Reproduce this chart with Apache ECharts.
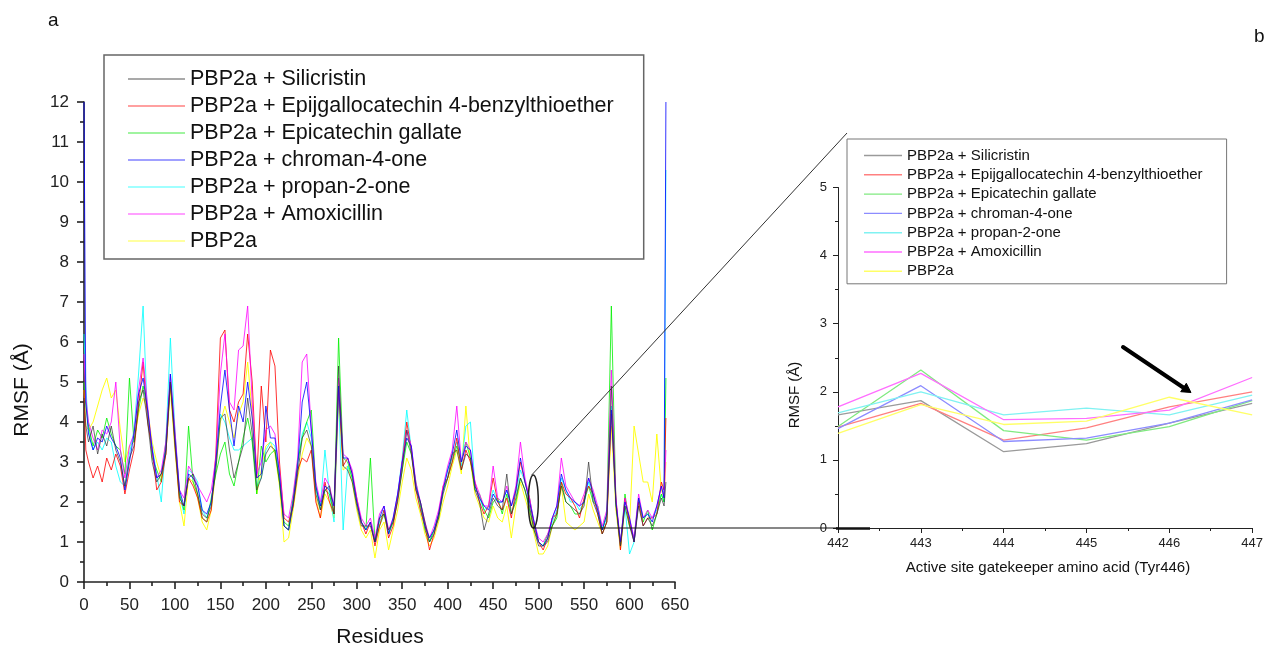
<!DOCTYPE html>
<html>
<head>
<meta charset="utf-8">
<script src="https://cdn.jsdelivr.net/npm/echarts@6/dist/echarts.min.js"></script>
<style>
html,body{margin:0;padding:0;background:#fff;}
#chart{width:1266px;height:648px;}
</style>
</head>
<body>
<div id="chart"></div>
<script>
// ---------- Panel a data (RMSF vs residue) ----------
const residues = [0,2,5,10,15,20,25,30,35,40,45,50,55,60,65,70,75,80,85,90,95,100,105,110,115,120,125,130,135,140,145,150,155,160,165,170,175,180,185,190,195,200,205,210,215,220,225,230,235,240,245,250,255,260,265,270,275,280,285,290,295,300,305,310,315,320,325,330,335,340,345,350,355,360,365,370,375,380,385,390,395,400,405,410,415,420,425,430,435,440,445,450,455,460,465,470,475,480,485,490,495,500,505,510,515,520,525,530,535,540,545,550,555,560,565,570,575,580,585,590,595,600,605,610,615,620,625,630,635,638,640];

const silicristin = [4.6,3.9,
3.5,3.9,3.2,3.7,3.4,3.9,3.3,3.0,2.4,3.1,
3.4,4.5,4.8,4.0,3.0,2.5,2.7,3.2,5.0,3.4,
2.1,1.9,2.6,2.7,2.2,1.7,1.6,1.9,2.8,4.1,
4.2,3.3,2.6,3.0,3.4,4.6,3.7,2.3,2.6,3.2,
3.4,3.3,2.5,1.4,1.3,1.9,2.7,3.6,3.8,3.4,
2.2,1.8,2.3,2.4,1.7,5.4,2.9,2.8,2.5,1.9,
1.4,1.4,1.4,1.0,1.6,1.7,1.3,1.5,2.0,2.8,
3.8,3.2,2.3,2.0,1.5,1.0,1.2,1.6,2.2,2.6,
3.2,3.3,2.8,3.2,3.1,2.3,2.0,1.3,1.7,2.1,
1.9,1.8,2.7,1.7,2.1,2.6,2.3,1.9,1.3,0.9,
0.9,1.0,1.4,1.7,2.4,2.0,1.9,1.8,1.7,1.9,
3.0,2.0,1.7,1.2,1.5,4.9,1.9,0.9,1.9,1.4,
1.0,1.9,1.4,1.6,1.4,1.7,2.1,
1.9,2.5];

const epigallocatechin = [4.8,3.3,
3.0,2.6,2.9,2.5,3.1,2.8,3.2,2.9,2.2,2.8,
3.3,4.4,5.5,4.0,3.3,2.3,2.5,3.2,5.0,3.5,
2.0,1.9,2.6,2.4,2.1,1.6,1.5,1.8,3.2,6.1,
6.3,4.3,4.0,4.5,4.7,6.2,5.0,2.6,4.9,3.5,
5.8,5.4,3.0,1.6,1.5,1.9,2.8,3.1,3.0,3.3,
2.0,1.6,2.5,2.0,1.7,4.8,2.9,3.1,2.7,2.1,
1.5,1.2,1.5,0.9,1.4,1.8,1.1,1.4,2.1,3.0,
4.0,3.3,2.3,1.8,1.4,0.8,1.2,1.7,2.4,2.6,
3.0,3.6,2.8,3.3,3.0,2.5,2.0,1.7,1.9,2.6,
2.0,1.8,2.1,1.6,2.3,3.0,2.5,2.1,1.4,1.0,
0.8,1.1,1.6,1.7,2.5,2.2,2.1,1.9,1.6,2.1,
2.4,2.2,1.7,1.2,1.5,4.2,2.1,0.8,2.1,1.5,
1.0,2.0,1.4,1.6,1.6,1.7,2.5,
2.3,4.1];

const epicatechin = [5.0,4.4,
3.9,3.4,3.8,3.6,4.1,3.7,3.4,3.3,2.7,5.1,
3.5,4.3,4.9,4.3,3.1,2.8,2.5,3.5,5.0,3.7,
2.2,1.8,3.9,2.5,2.2,1.6,1.5,2.1,2.7,3.2,
3.5,2.7,2.4,3.0,3.6,4.1,3.5,2.2,3.4,3.0,
3.2,3.3,2.5,1.5,1.4,2.1,3.0,3.6,4.0,4.3,
2.4,1.8,2.3,2.2,1.7,6.1,3.1,3.0,2.6,2.0,
1.5,1.3,3.1,1.0,1.4,1.7,1.2,1.5,2.1,2.8,
3.5,3.2,2.5,1.9,1.3,1.0,1.3,1.6,2.3,2.6,
3.0,3.4,3.0,3.5,3.1,2.3,2.2,1.8,1.6,2.0,
2.1,1.7,2.2,1.7,2.0,2.6,2.3,1.8,1.3,1.0,
0.9,1.2,1.4,1.6,2.5,2.0,1.9,1.7,1.7,2.0,
2.4,2.0,1.9,1.3,1.7,6.9,2.0,0.9,2.2,1.4,
1.1,2.1,1.5,1.8,1.3,1.7,2.2,
2.0,5.1];

const chromanone = [12.0,4.5,
3.7,3.3,3.6,3.5,3.9,3.6,3.4,3.1,2.3,3.0,
3.7,4.7,5.1,4.3,3.3,2.6,2.7,3.3,5.2,3.6,
2.3,1.9,2.7,2.6,2.4,1.8,1.7,2.0,3.0,4.4,
5.3,4.3,3.4,4.4,4.0,5.0,4.1,2.6,2.7,4.4,
3.6,3.6,2.7,1.4,1.3,2.0,2.9,4.5,5.0,3.8,
2.4,1.9,2.4,2.3,1.9,4.9,3.1,3.1,2.7,2.0,
1.5,1.3,1.5,1.0,1.6,1.9,1.2,1.6,2.2,3.0,
3.6,3.4,2.4,2.0,1.4,1.1,1.3,1.7,2.3,2.8,
3.2,3.8,3.0,3.4,3.3,2.4,2.1,1.9,1.8,2.2,
2.0,2.0,2.3,1.9,2.3,3.1,2.5,2.0,1.5,1.0,
0.9,1.1,1.6,1.9,2.7,2.3,2.1,2.0,1.9,2.0,
2.6,2.2,1.8,1.3,1.7,4.3,2.0,1.0,2.0,1.6,
1.0,2.1,1.6,1.7,1.5,1.9,2.4,
2.1,12.0];

const propanone = [6.2,4.9,
3.8,3.3,3.5,3.3,3.6,3.5,2.9,2.5,2.4,3.2,
3.8,5.2,6.9,4.0,3.4,2.7,2.0,3.5,6.1,3.8,
2.2,1.7,2.8,2.7,2.5,1.8,1.6,2.0,2.9,4.2,
4.0,3.6,3.3,3.3,3.4,3.5,3.6,2.4,2.6,3.3,
3.5,3.4,2.6,1.4,1.3,2.0,3.0,3.7,4.0,3.6,
2.3,1.9,3.3,2.2,1.5,4.7,1.3,2.9,2.6,2.0,
1.5,1.3,1.5,1.0,1.5,1.8,1.2,1.5,2.2,3.1,
4.3,3.3,2.4,1.8,1.4,1.0,1.3,1.7,2.3,2.8,
3.1,3.5,2.9,3.9,4.0,2.4,2.1,1.8,1.9,2.3,
2.0,2.0,2.3,1.9,2.2,2.8,2.5,2.1,1.5,1.0,
0.9,1.1,1.5,1.8,2.6,2.3,2.0,2.0,1.8,2.0,
2.5,2.1,1.8,1.3,1.6,4.4,2.0,0.9,1.9,0.7,
1.0,2.0,1.6,1.7,1.6,1.8,2.2,
2.0,10.3];

const amoxicillin = [5.7,4.6,
4.0,3.6,3.3,3.8,3.7,4.0,5.0,3.3,2.6,3.4,
3.7,4.8,5.6,4.4,3.3,2.6,2.8,3.5,5.2,3.8,
2.3,2.1,2.9,2.7,2.4,2.2,2.0,2.3,3.1,5.2,
6.2,4.5,4.3,5.8,5.9,6.9,4.5,2.7,3.0,3.8,
3.9,3.7,2.8,1.7,1.6,2.2,3.1,5.5,5.7,3.8,
2.5,2.0,2.6,2.4,1.9,5.1,3.2,3.1,2.8,2.1,
1.6,1.4,1.6,1.1,1.7,1.9,1.3,1.6,2.2,3.0,
3.8,3.4,2.5,2.0,1.5,1.1,1.4,1.8,2.4,2.9,
3.3,4.4,3.0,3.5,3.3,2.5,2.2,1.9,1.9,2.9,
2.1,2.0,2.4,1.9,2.4,3.5,2.6,2.1,1.5,1.1,
1.0,1.2,1.6,1.9,3.1,2.4,2.2,2.0,1.9,2.2,
2.6,2.3,1.9,1.4,1.8,5.3,2.1,1.0,2.1,1.6,
1.1,2.2,1.6,1.8,1.6,1.9,2.4,
2.1,3.3];

const pbp2a = [4.8,3.9,
3.8,4.0,4.4,4.8,5.1,4.6,4.8,3.8,3.0,3.4,
3.5,4.2,4.6,4.3,3.5,3.0,2.6,3.2,4.8,3.3,
2.0,1.4,2.6,2.5,2.1,1.5,1.3,1.8,2.8,4.0,
4.4,4.0,3.6,4.2,4.5,5.5,4.2,2.2,2.8,3.4,
3.5,3.2,2.4,1.0,1.1,1.8,2.6,3.2,3.6,3.4,
2.1,1.6,2.2,2.0,1.6,4.6,2.8,2.9,2.5,1.8,
1.3,1.1,1.3,0.6,1.3,1.5,0.8,1.3,1.8,2.5,
3.1,2.8,2.1,1.7,1.2,0.9,1.1,1.5,2.0,2.4,
2.9,3.3,2.7,4.4,3.0,2.2,1.9,1.6,1.5,1.9,
1.6,1.5,1.9,1.1,1.9,2.5,2.1,1.7,1.2,0.7,
0.7,0.9,1.4,1.7,2.4,1.5,1.4,1.3,1.4,1.5,
2.2,1.8,1.5,1.2,1.5,3.9,1.8,0.8,1.9,1.4,
3.9,3.2,2.5,2.5,2.0,3.7,2.3,
2.1,3.0];

// ---------- Panel b data (zoom, residues 442-447) ----------
const zoomResidues = [442,443,444,445,446,447];
const bSilicristin      = [1.66,1.87,1.12,1.24,1.54,1.83];
const bEpigallocatechin = [1.48,1.83,1.29,1.47,1.78,2.00];
const bEpicatechin      = [1.49,2.32,1.43,1.29,1.49,1.87];
const bChromanone       = [1.46,2.09,1.27,1.32,1.54,1.88];
const bPropanone        = [1.69,2.00,1.66,1.76,1.66,1.95];
const bAmoxicillin      = [1.78,2.27,1.59,1.61,1.73,2.21];
const bPbp2a            = [1.39,1.81,1.52,1.57,1.92,1.66];

const names = ['PBP2a + Silicristin','PBP2a + Epijgallocatechin 4-benzylthioether','PBP2a + Epicatechin gallate','PBP2a + chroman-4-one','PBP2a + propan-2-one','PBP2a + Amoxicillin','PBP2a'];

// ---------- build ----------
function pairs(xs, ys){
  if (xs.length !== ys.length) throw new Error('length mismatch ' + xs.length + ' vs ' + ys.length);
  return xs.map((x,i)=>[x, ys[i]]);
}
const FONT = '"Liberation Sans", Arial, Helvetica, sans-serif';
const colorsA = ['#333333','#ff0000','#00f000','#0000ff','#00ffff','#ff00ff','#ffff00'];
const opacA = [0.7,0.8,0.8,0.8,0.8,0.8,0.9];
const legendColA = ['#8c8c8c','#ff8080','#80f080','#8080ff','#80ffff','#ff80ff','#ffff80'];
const colorsB = ['#9a9a9a','#ff8080','#80ea80','#8c8cff','#80f2f2','#ff6eff','#ffff66'];
const dataA = [silicristin, epigallocatechin, epicatechin, chromanone, propanone, amoxicillin, pbp2a];
const dataB = [bSilicristin, bEpigallocatechin, bEpicatechin, bChromanone, bPropanone, bAmoxicillin, bPbp2a];
const zOrder = [7,4,3,6,2,5,1];

const series = [];
dataA.forEach((arr,i)=>{
  series.push({
    type:'line', name:names[i], xAxisIndex:0, yAxisIndex:0,
    data: pairs(residues, arr), symbol:'none', showSymbol:false,
    lineStyle:{color:colorsA[i], width:1, opacity:opacA[i]},
    itemStyle:{color:colorsA[i]}, z: 2 + zOrder[i]*0.01,
    emphasis:{disabled:true}, silent:true
  });
});
dataB.forEach((arr,i)=>{
  series.push({
    type:'line', name:names[i], xAxisIndex:1, yAxisIndex:1,
    data: pairs(zoomResidues, arr), symbol:'none', showSymbol:false,
    lineStyle:{color:colorsB[i], width:1.3},
    itemStyle:{color:colorsB[i]}, emphasis:{disabled:true}, silent:true
  });
});

const axisCommon = (w, tickLen, minorLen)=>({
  axisLine:{show:true, onZero:false, lineStyle:{color:'#222', width:w}},
  axisTick:{show:true, inside:false, length:tickLen, lineStyle:{color:'#222', width:w}},
  minorTick:{show:true, splitNumber:2, length:minorLen, lineStyle:{color:'#222', width:w}},
  splitLine:{show:false}, minorSplitLine:{show:false}
});

const option = {
  animation:false,
  backgroundColor:'#fff',
  grid:[
    {left:84, top:102, width:591, height:480},
    {left:838, top:187.5, width:419, height:340.5}
  ],
  xAxis:[
    Object.assign({type:'value', gridIndex:0, min:0, max:650, interval:50}, axisCommon(1.6,7,4),
      {axisLabel:{fontSize:17, color:'#222', fontFamily:FONT, margin:15}}),
    Object.assign({type:'value', gridIndex:1, min:442, max:447, interval:1}, axisCommon(1,5,3),
      {axisLabel:{fontSize:13, color:'#222', fontFamily:FONT, margin:9}})
  ],
  yAxis:[
    Object.assign({type:'value', gridIndex:0, min:0, max:12, interval:1}, axisCommon(1.6,7,4),
      {axisLabel:{fontSize:17, color:'#222', fontFamily:FONT, margin:15}}),
    Object.assign({type:'value', gridIndex:1, min:0, max:5, interval:1}, axisCommon(1,5,3),
      {axisLabel:{fontSize:13, color:'#222', fontFamily:FONT, margin:11}})
  ],
  legend:[
    {
      orient:'vertical', left:104, top:55, selectedMode:false,
      padding:[13,30,7,24], itemGap:5, itemWidth:57, itemHeight:1.6, icon:'rect',
      borderColor:'#666', borderWidth:1.5, backgroundColor:'#fff',
      textStyle:{fontSize:21.5, color:'#111', fontFamily:FONT, lineHeight:21.5},
      data: names.map((n,i)=>({name:n, icon:'rect', itemStyle:{color:legendColA[i], borderWidth:0}}))
    },
    {
      orient:'vertical', left:847, top:139, selectedMode:false,
      padding:[9,24,5,17], itemGap:4.3, itemWidth:38, itemHeight:1.4, icon:'rect',
      borderColor:'#777', borderWidth:1, backgroundColor:'#fff',
      textStyle:{fontSize:15, color:'#111', fontFamily:FONT, lineHeight:15},
      data: names.map((n,i)=>({name:n, icon:'rect', itemStyle:{color:colorsB[i], borderWidth:0}}))
    }
  ],
  graphic:[
    {type:'text', left:48, top:11, style:{text:'a', font:'19px '+FONT, fill:'#111'}},
    {type:'text', left:1254, top:27, style:{text:'b', font:'19px '+FONT, fill:'#111'}},
    {type:'text', x:22, y:390, rotation:Math.PI/2,
      style:{text:'RMSF (Å)', font:'21px '+FONT, fill:'#111', textAlign:'center', textVerticalAlign:'middle'}},
    {type:'text', x:380, y:637,
      style:{text:'Residues', font:'21px '+FONT, fill:'#111', textAlign:'center', textVerticalAlign:'middle'}},
    {type:'text', x:795, y:395, rotation:Math.PI/2,
      style:{text:'RMSF (Å)', font:'15px '+FONT, fill:'#111', textAlign:'center', textVerticalAlign:'middle'}},
    {type:'text', x:1048, y:568,
      style:{text:'Active site gatekeeper amino acid (Tyr446)', font:'15px '+FONT, fill:'#111', textAlign:'center', textVerticalAlign:'middle'}},
    {type:'ellipse', z:50, shape:{cx:533.3, cy:501.5, rx:5, ry:26.5}, style:{fill:null, stroke:'#222', lineWidth:1.5}},
    {type:'line', z:50, shape:{x1:531.7, y1:475, x2:847, y2:133}, style:{stroke:'#333', lineWidth:1}},
    {type:'line', z:50, shape:{x1:533, y1:528, x2:838, y2:528}, style:{stroke:'#111', lineWidth:1.2}},
    {type:'line', z:50, shape:{x1:836, y1:528.5, x2:870, y2:528.5}, style:{stroke:'#111', lineWidth:2.5}},
    {type:'line', z:50, shape:{x1:1123, y1:347, x2:1184, y2:388}, style:{stroke:'#000', lineWidth:4, lineCap:'round'}},
    {type:'polygon', z:50, shape:{points:[[1191,392.5],[1180.7,391.7],[1186.3,383.3]]}, style:{fill:'#000', stroke:'#000', lineWidth:1}}
  ],
  series: series
};

const chart = echarts.init(document.getElementById('chart'), null, {renderer:'canvas'});
chart.setOption(option);
</script>
</body>
</html>
